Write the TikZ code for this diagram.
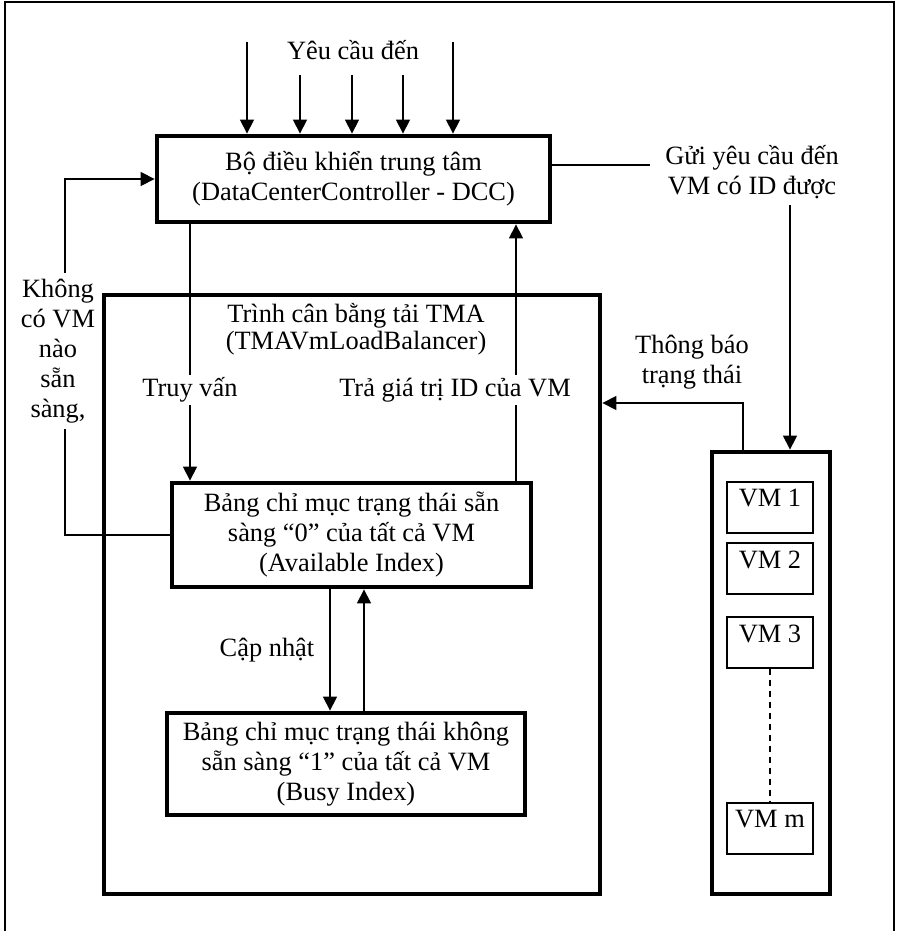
\documentclass[tikz,border=0pt]{standalone}
\usepackage{fontspec}
\setmainfont{Liberation Serif}
\usetikzlibrary{arrows.meta}
\begin{document}
\begin{tikzpicture}[x=1pt,y=-1pt,
  every node/.style={font=\fontsize{26.4}{30}\selectfont},
  thickbox/.style={draw,line width=4.8pt,inner sep=0pt,align=center},
  vmitem/.style={draw,line width=1.3pt,minimum width=86pt,minimum height=51pt,inner sep=0pt},
  vmlabel/.style={anchor=north,inner sep=8pt},
  arr/.style={line width=1.3pt,-{Triangle[length=14pt,width=14pt]}},
  conn/.style={line width=1.3pt},
  lbl/.style={fill=white,inner sep=3pt,align=center}]
\useasboundingbox (0,0) rectangle (900,931);
\draw[line width=1.5pt] (5,960) -- (5,2) -- (894,2) -- (894,960);

% boxes
\node[thickbox,minimum width=393pt,minimum height=86pt] (dcc) at (353.5,179)
  {Bộ điều khiển trung tâm\\(DataCenterController - DCC)};
\node[thickbox,minimum width=496pt,minimum height=599pt] (tma) at (352,594.5) {};
\node[align=center] (tmat) at (356,329) {Trình cân bằng tải TMA\\[-3pt](TMAVmLoadBalancer)};
\node[thickbox,minimum width=359pt,minimum height=104pt] (avail) at (351.5,535)
  {Bảng chỉ mục trạng thái sẵn\\sàng “0” của tất cả VM\\(Available Index)};
\node[thickbox,minimum width=358pt,minimum height=102pt] (busy) at (346,764)
  {Bảng chỉ mục trạng thái không\\sẵn sàng “1” của tất cả VM\\(Busy Index)};

% VM column
\node[thickbox,minimum width=118pt,minimum height=442pt] (vms) at (771,673) {};
\node[vmitem] (vm1) at (770,507.5) {};
\node[vmlabel] (vm1t) at (vm1.north) {VM 1};
\node[vmitem] (vm2) at (770,568.5) {};
\node[vmlabel] (vm2t) at (vm2.north) {VM 2};
\node[vmitem] (vm3) at (770,642.5) {};
\node[vmlabel] (vm3t) at (vm3.north) {VM 3};
\node[vmitem] (vmm) at (770,828.5) {};
\node[vmlabel] (vmmt) at (vmm.north) {VM m};
\draw[conn,dash pattern=on 6pt off 5pt] (vm3.south) -- (vmm.north);

% incoming requests
\node (req) at (353,50) {Yêu cầu đến};
\coordinate (t1) at (247,42);
\coordinate (t2) at (300,75);
\coordinate (t3) at (352,75);
\coordinate (t4) at (403,75);
\coordinate (t5) at (453,42);
\foreach \t in {t1,t2,t3,t4,t5} \draw[arr] (\t) -- (dcc.north -| \t);

% query and return
\coordinate (q) at (190,0);
\coordinate (r) at (516,0);
\draw[arr] (dcc.south -| q) -- (avail.north -| q);
\draw[arr] (avail.north -| r) -- (dcc.south -| r);
\node[lbl] (qt) at (190,390) {Truy vấn};
\node[lbl] (rt) at (455,390) {Trả giá trị ID của VM};

% update
\coordinate (c1) at (330,0);
\coordinate (c2) at (364,0);
\draw[arr] (avail.south -| c1) -- (busy.north -| c1);
\draw[arr] (busy.north -| c2) -- (avail.south -| c2);
\node (ct) at (267,650) {Cập nhật};

% feedback: no VM available
\coordinate (fb) at (65,0);
\draw[arr] (avail.west) -- (avail.west -| fb) -- (dcc.west -| fb) -- (dcc.west);
\node[lbl,inner sep=6pt] (fbt) at (58,351) {Không\\có VM\\nào\\sẵn\\sàng,};

% send to VM
\coordinate (g) at (650,165);
\draw[conn] (dcc.east |- g) -- (g);
\node[align=center] (gt) at (752,172) {Gửi yêu cầu đến\\VM có ID được};
\coordinate (g2) at (790,205);
\draw[arr] (g2) -- (vms.north -| g2);

% status notification
\coordinate (tb) at (743,403);
\draw[arr] (vms.north -| tb) -- (tb) -- (tma.east |- tb);
\node[align=center] (tbt) at (692,362) {Thông báo\\trạng thái};
\end{tikzpicture}
\end{document}
